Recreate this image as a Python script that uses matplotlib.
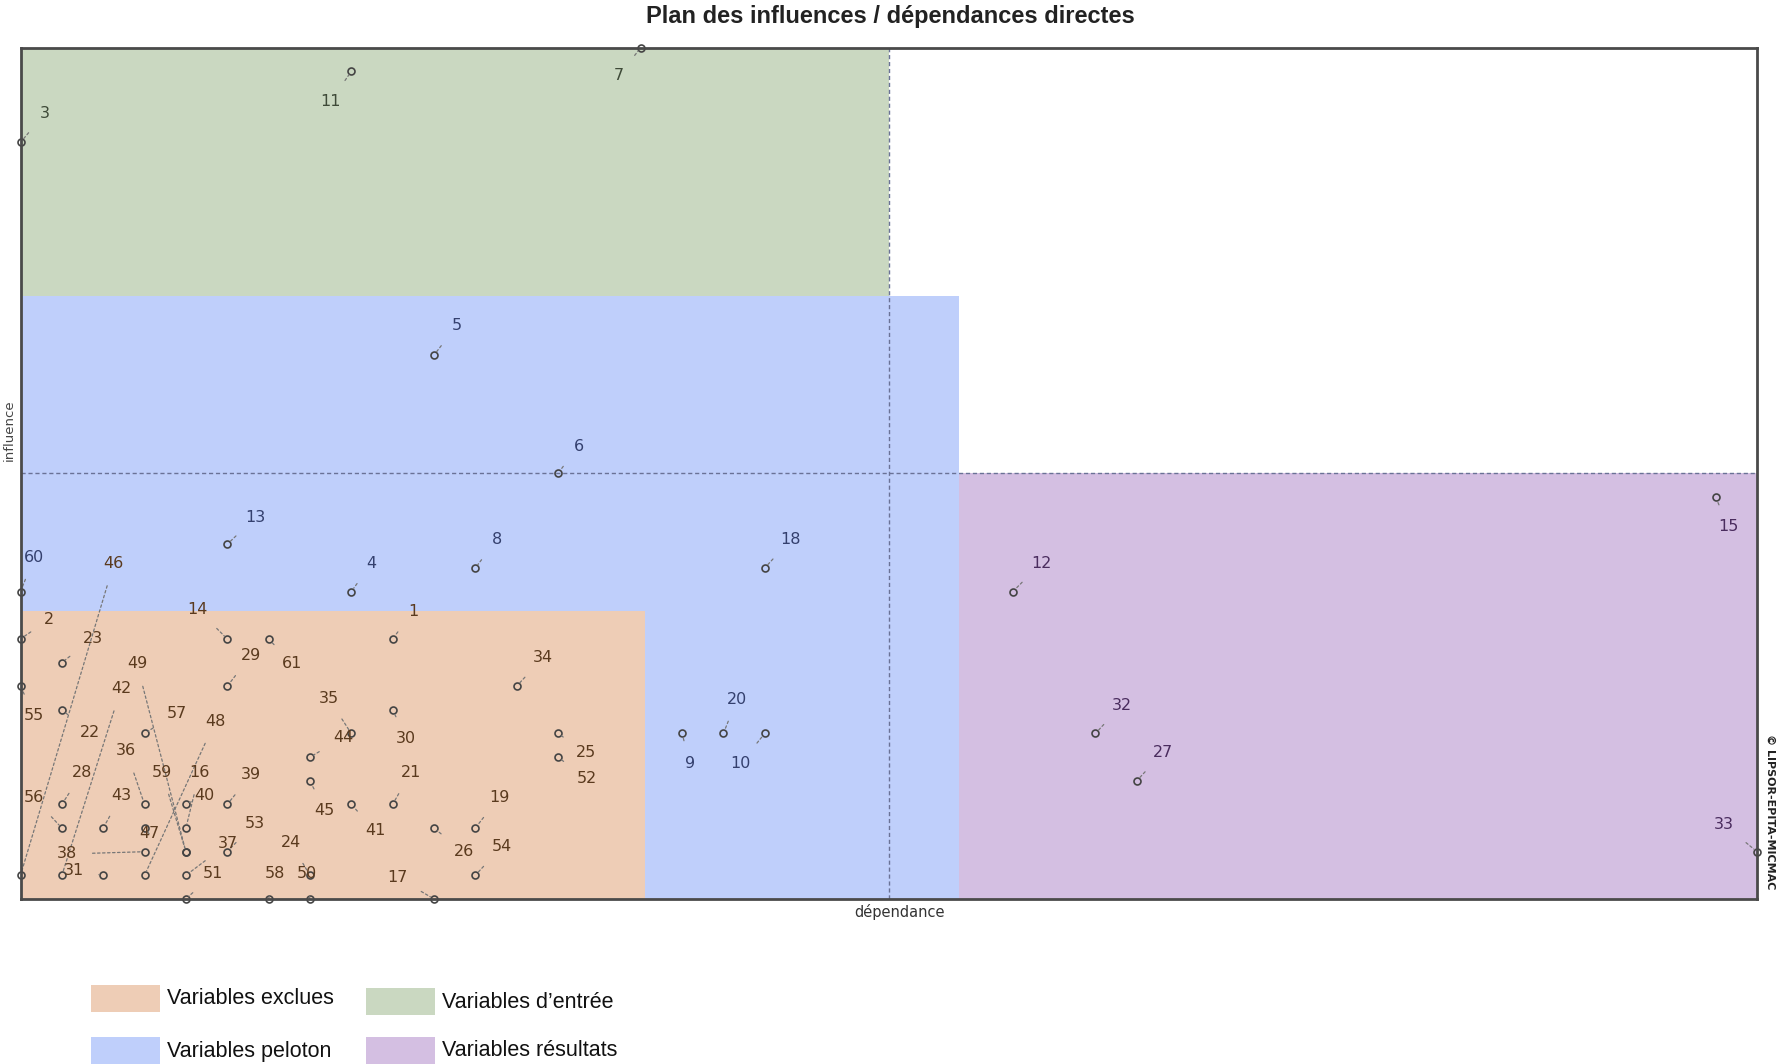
import matplotlib
matplotlib.use("Agg")
import matplotlib.pyplot as plt
from matplotlib.patches import Rectangle

# ---------------- data ----------------
labels = [7, 11, 3, 5, 6, 13, 8, 4, 60, 18, 12, 15, 32, 27, 33, 20, 9, 10,
          34, 25, 52, 19, 54, 26, 17, 1, 30, 21, 41, 35, 44, 45, 24, 50, 58,
          14, 61, 29, 2, 23, 55, 22, 42, 49, 57, 36, 48, 16, 40, 59, 28, 56,
          43, 47, 39, 53, 37, 38, 31, 46, 51]
dependance = [15, 8, 0, 10, 13, 5, 11, 8, 0, 18, 24, 41, 26, 27, 42, 17, 16, 18,
              12, 13, 13, 11, 11, 10, 10, 9, 9, 9, 8, 8, 7, 7, 7, 7, 6,
              5, 6, 5, 0, 1, 0, 1, 1, 4, 3, 3, 3, 4, 4, 4, 1, 1,
              2, 3, 5, 5, 4, 3, 2, 0, 4]
influence = [36, 35, 32, 23, 18, 15, 14, 13, 13, 14, 13, 17, 7, 5, 2, 7, 7, 7,
             9, 7, 6, 3, 1, 3, 0, 11, 8, 4, 4, 7, 6, 5, 1, 0, 0,
             11, 11, 9, 11, 10, 9, 8, 1, 2, 7, 4, 1, 3, 4, 2, 4, 3,
             3, 3, 4, 2, 1, 2, 1, 1, 0]
# label offsets (screen px of a 1564-wide rendering, right / up)
label_dx = [-19, -18, 21, 20, 18, 25, 19, 18, 12, 23, 25, 11, 23, 23, -29, 12, 7, -21,
            23, 25, 25, 21, 23, 26, -32, 18, 12, 16, 21, -20, 29, 13, -17, -3, 6,
            -26, 21, 21, 25, 27, 12, 25, 52, -43, 28, -16, 62, 12, 16, -21, 18, -25,
            16, 4, 21, 24, 37, -68, -26, 82, 24]
label_dy = [-24, -26, 25, 26, 24, 24, 25, 25, 30, 25, 25, -26, 25, 25, 24, 30, -26, -26,
            25, -17, -19, 27, 25, -21, 19, 24, -25, 28, -23, 31, 17, -26, 29, 22, 22,
            26, -22, 27, 17, 21, -26, -20, 164, 165, 18, 47, 135, 49, 8, 70, 28, 27,
            29, -5, 26, 25, 28, -2, 4, 274, 22]

x_max, y_max = 42, 36
mean_dep, mean_inf = 21, 18

zone_names = ["Variables exclues", "Variables d\u2019entrée", "Variables peloton", "Variables résultats"]
zone_colors = ["#EECDB6", "#CAD8C1", "#BFCFFB", "#D4BFE2"]
zone_text_colors = ["#5A3A1E", "#3E4A38", "#34406E", "#4A2C5E"]
green_zone = (0, 21, 25.5, 36)
blue_zone = (0, 22.7, 0, 25.5)
orange_zone = (0, 15.1, 0, 12.2)
purple_zone = (22.7, 42, 0, 18)

# ---------------- figure ----------------
W, H = 1780, 1064
S = W / 1564.0
fig = plt.figure(figsize=(W / 100, H / 100), dpi=100)
fig.patch.set_facecolor("white")
ax = fig.add_axes([20.5 / W, 1 - 899 / H, (1757 - 20.5) / W, (899 - 47.8) / H])
ax.set_xlim(0, x_max)
ax.set_ylim(0, y_max)
ax.set_xticks([])
ax.set_yticks([])
for sp in ax.spines.values():
    sp.set_color("#4a4a4a")
    sp.set_linewidth(2)
    sp.set_zorder(10)


def rect(z, c):
    ax.add_patch(Rectangle((z[0], z[2]), z[1] - z[0], z[3] - z[2], facecolor=c,
                           edgecolor="none", zorder=1))


rect(green_zone, zone_colors[1])
rect(blue_zone, zone_colors[2])
rect(orange_zone, zone_colors[0])
rect(purple_zone, zone_colors[3])

ax.axhline(mean_inf, color="#6a7296", lw=1, ls=(0, (3, 2)), zorder=2)
ax.axvline(mean_dep, color="#6a7296", lw=1, ls=(0, (3, 2)), zorder=2)


def zone_of(x, y):
    if x <= orange_zone[1] and y <= orange_zone[3]:
        return 0
    if y >= green_zone[2] and x <= green_zone[1]:
        return 1
    if x >= purple_zone[0] and y <= purple_zone[3]:
        return 3
    return 2


for lab, x, y, dx, dy in zip(labels, dependance, influence, label_dx, label_dy):
    z = zone_of(x, y)
    col = zone_text_colors[z]
    ax.plot([x], [y], marker="o", ms=5, mfc="none", mec="#444444", mew=1.2,
            zorder=5, clip_on=False)
    ax.annotate(str(lab), xy=(x, y), xytext=(dx * S, dy * S), textcoords="offset pixels",
                ha="center", va="center", fontsize=11.5, color=col,
                family="DejaVu Sans", zorder=6, annotation_clip=False,
                arrowprops=dict(arrowstyle="-", color="#777777", lw=0.9,
                                linestyle=(0, (2, 2)), shrinkA=9, shrinkB=3))

# titles / axis names
fig.text(890 / W, 1 - 17 / H, "Plan des influences / dépendances directes",
         ha="center", va="center", fontsize=17, fontweight="bold",
         family="Liberation Sans", color="#222222")
fig.text(9 / W, 1 - 430 / H, "influence", rotation=90, ha="center", va="center",
         fontsize=9.5, color="#444444", family="DejaVu Sans")
fig.text(899 / W, 1 - 912 / H, "dépendance", ha="center", va="center",
         fontsize=10.5, color="#333333", family="DejaVu Sans")
fig.text(1770 / W, 1 - 812 / H, "\u00a9 LIPSOR-EPITA-MICMAC", rotation=-90,
         ha="center", va="center", fontsize=8, fontweight="bold", color="#222222",
         family="DejaVu Sans")

# legend
leg_boxes = [(91, 985), (366, 988), (91, 1037), (366, 1037)]
for (px, py), i in zip(leg_boxes, range(4)):
    fig.patches.append(Rectangle((px / W, 1 - (py + 27) / H), 69 / W, 27 / H,
                                 facecolor=zone_colors[i], edgecolor="none",
                                 transform=fig.transFigure, figure=fig))
    fig.text((px + 76) / W, 1 - (py + 14) / H, zone_names[i], ha="left", va="center",
             fontsize=15.5, color="#111111", family="Liberation Sans")

fig.savefig("out.png", dpi=100, facecolor="white")
